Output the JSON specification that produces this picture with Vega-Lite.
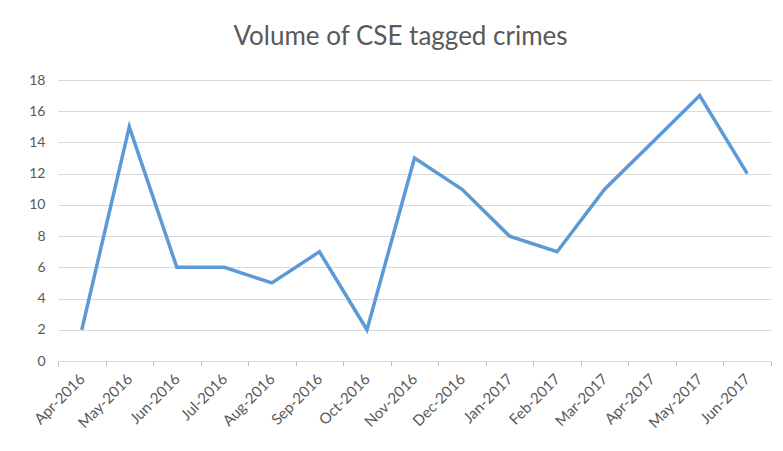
{
  "$schema": "https://vega.github.io/schema/vega-lite/v6.json",
  "width": 713,
  "height": 281,
  "autosize": {"type": "none"},
  "padding": {"left": 58, "top": 80, "right": 12, "bottom": 90},
  "background": "white",
  "config": {"view": {"stroke": null}, "font": "Lato"},
  "title": {
    "text": "Volume of CSE tagged crimes",
    "fontSize": 26,
    "fontWeight": "normal",
    "color": "#595959",
    "font": "Lato",
    "anchor": "middle",
    "offset": 23,
    "dx": -14
  },
  "data": {
    "values": [
      {"month": "Apr-2016", "crimes": 2},
      {"month": "May-2016", "crimes": 15},
      {"month": "Jun-2016", "crimes": 6},
      {"month": "Jul-2016", "crimes": 6},
      {"month": "Aug-2016", "crimes": 5},
      {"month": "Sep-2016", "crimes": 7},
      {"month": "Oct-2016", "crimes": 2},
      {"month": "Nov-2016", "crimes": 13},
      {"month": "Dec-2016", "crimes": 11},
      {"month": "Jan-2017", "crimes": 8},
      {"month": "Feb-2017", "crimes": 7},
      {"month": "Mar-2017", "crimes": 11},
      {"month": "Apr-2017", "crimes": 14},
      {"month": "May-2017", "crimes": 17},
      {"month": "Jun-2017", "crimes": 12}
    ]
  },
  "mark": {"type": "line", "color": "#5B9BD5", "strokeWidth": 3.5, "strokeJoin": "miter"},
  "encoding": {
    "x": {
      "field": "month",
      "type": "ordinal",
      "sort": null,
      "scale": {"type": "band", "paddingInner": 0, "paddingOuter": 0},
      "axis": {
        "title": null,
        "labelAngle": -45,
        "labelAlign": "right",
        "labelBaseline": "middle",
        "labelFontSize": 15,
        "labelColor": "#595959",
        "labelPadding": 10,
        "tickBand": "extent",
        "tickColor": "#BFBFBF",
        "tickSize": 5,
        "domainColor": "#D9D9D9",
        "grid": false
      }
    },
    "y": {
      "field": "crimes",
      "type": "quantitative",
      "scale": {"domain": [0, 18], "nice": false},
      "axis": {
        "title": null,
        "values": [0, 2, 4, 6, 8, 10, 12, 14, 16, 18],
        "domain": false,
        "ticks": false,
        "labelFontSize": 14,
        "labelColor": "#595959",
        "labelPadding": 13,
        "gridColor": "#D9D9D9",
        "gridWidth": 1
      }
    }
  }
}
